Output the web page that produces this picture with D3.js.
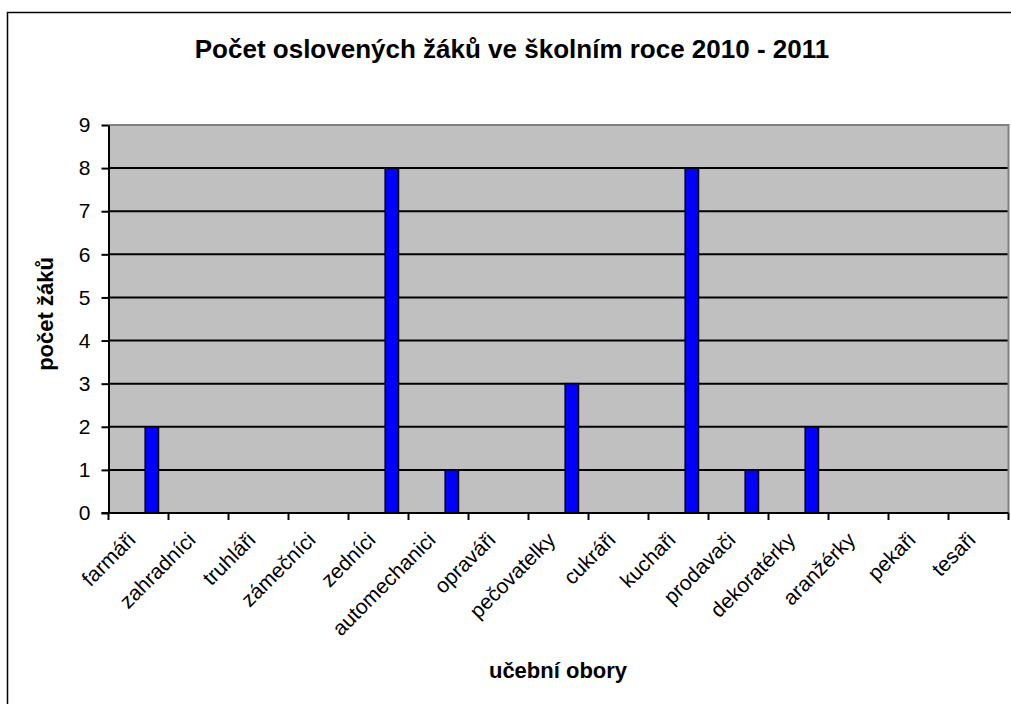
<html lang="cs">
<head>
<meta charset="utf-8">
<style>
body { margin: 0; background: #fff; }
svg text { font-family: "Liberation Sans", Arial, sans-serif; }
</style>
</head>
<body>
</body>
<script type='text/javascript' src='https://d3js.org/d3.v7.min.js'></script>
<script>
var width = 1011, height = 704;

// data
const categories = ['farmáři','zahradníci','truhláři','zámečníci','zedníci','automechanici','opraváři',
  'pečovatelky','cukráři','kuchaři','prodavači','dekoratérky','aranžérky','pekaři','tesaři'];
const values = [2,0,0,0,8,1,0,3,0,8,1,2,0,0,0];
const yTicks = [0,1,2,3,4,5,6,7,8,9];
const title = 'Počet oslovených žáků ve školním roce 2010 - 2011';
const xTitle = 'učební obory';
const yTitle = 'počet žáků';

var plot = {left: 108.5, right: 1008.5, top: 125, bottom: 513};

var svg = d3.select('body').append('svg').attr('width', width).attr('height', height);

// outer chart border
svg.append('rect')
  .attr('x', 7.5).attr('y', 12.5).attr('width', 1010).attr('height', 700)
  .attr('fill', '#fff').attr('stroke', '#000').attr('stroke-width', 1.5);

var x = d3.scaleBand().domain(categories).range([plot.left, plot.right]).padding(0);
var y = d3.scaleLinear().domain([0, 9]).range([plot.bottom, plot.top]);
// the bars sit in the 3rd slot of each category (excel cluster layout)
var slot = d3.scaleBand().domain([0,1,2]).range([0, x.bandwidth()]).paddingOuter(0.75);

// plot background
svg.append('rect')
  .attr('x', plot.left).attr('y', plot.top)
  .attr('width', plot.right - plot.left).attr('height', plot.bottom - plot.top)
  .attr('fill', '#c0c0c0');

// gridlines
svg.append('g').selectAll('line')
  .data(yTicks.filter(d => d > 0 && d < 9))
  .join('line')
  .attr('x1', plot.left).attr('x2', plot.right)
  .attr('y1', d => y(d)).attr('y2', d => y(d))
  .attr('stroke', '#000').attr('stroke-width', 2);

// top / right border of plot
svg.append('path')
  .attr('d', `M${plot.left},${plot.top}H${plot.right}V${plot.bottom}`)
  .attr('fill', 'none').attr('stroke', '#808080').attr('stroke-width', 2);

// bars
svg.append('g').selectAll('rect')
  .data(categories.map((c, i) => ({cat: c, v: values[i]})).filter(d => d.v > 0))
  .join('rect')
  .attr('x', d => x(d.cat) + slot(2))
  .attr('y', d => y(d.v))
  .attr('width', slot.bandwidth())
  .attr('height', d => y(0) - y(d.v))
  .attr('fill', '#0000ff').attr('stroke', '#000').attr('stroke-width', 1.5);

// y axis
var yAxis = d3.axisLeft(y).tickValues(yTicks).tickSize(7).tickPadding(11).tickSizeOuter(0);
var gy = svg.append('g').attr('transform', `translate(${plot.left},0)`).call(yAxis);
gy.select('.domain').attr('stroke', '#000').attr('stroke-width', 2);
gy.selectAll('.tick line').attr('stroke', '#000').attr('stroke-width', 2);
gy.selectAll('.tick text').attr('font-size', 21).attr('fill', '#000')
  .attr('font-family', '"Liberation Sans", Arial, sans-serif');

// x axis: ticks between categories
var edges = categories.map(c => x(c)).concat([plot.right]);
svg.append('line')
  .attr('x1', plot.left - 7).attr('x2', plot.right)
  .attr('y1', plot.bottom).attr('y2', plot.bottom)
  .attr('stroke', '#000').attr('stroke-width', 2);
svg.append('g').selectAll('line')
  .data(edges)
  .join('line')
  .attr('x1', d => d).attr('x2', d => d)
  .attr('y1', plot.bottom).attr('y2', plot.bottom + 7)
  .attr('stroke', '#000').attr('stroke-width', 2);

svg.append('g').selectAll('text')
  .data(categories)
  .join('text')
  .attr('transform', d => `translate(${x(d) + x.bandwidth() / 2 - 7},${plot.bottom + 23}) rotate(-45)`)
  .attr('text-anchor', 'end')
  .attr('dy', '0.35em')
  .attr('font-size', 21)
  .text(d => d);

// titles
svg.append('text')
  .attr('x', 512).attr('y', 58)
  .attr('text-anchor', 'middle')
  .attr('font-size', 26).attr('font-weight', 'bold')
  .text(title);

svg.append('text')
  .attr('x', 558).attr('y', 678)
  .attr('text-anchor', 'middle')
  .attr('font-size', 22).attr('font-weight', 'bold')
  .text(xTitle);

svg.append('text')
  .attr('transform', 'translate(53,314) rotate(-90)')
  .attr('text-anchor', 'middle')
  .attr('font-size', 22).attr('font-weight', 'bold')
  .text(yTitle);
</script>
</html>
